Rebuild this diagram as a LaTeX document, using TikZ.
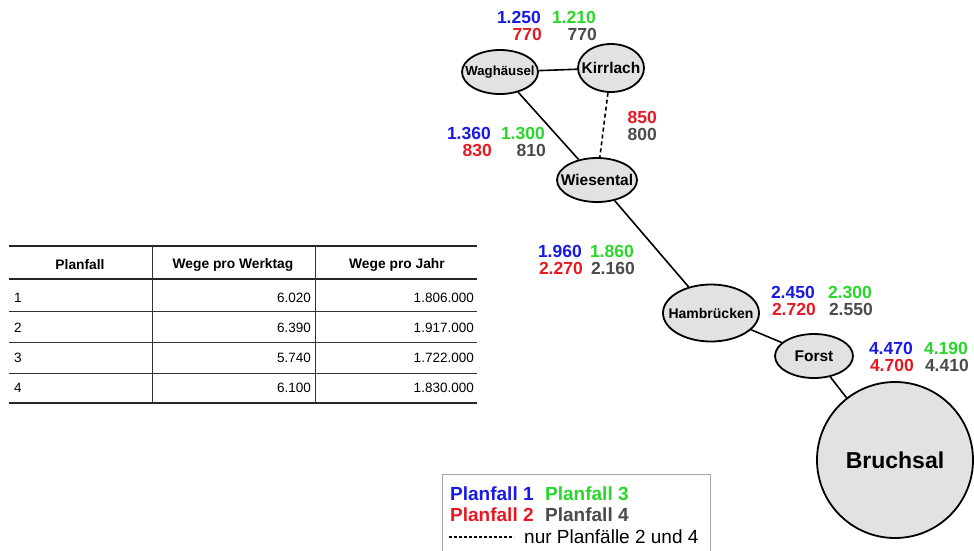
\documentclass[tikz,border=0pt]{standalone}
\usepackage{fontspec}
\setmainfont{Liberation Sans}
\usetikzlibrary{shapes.geometric}
\definecolor{pfblau}{RGB}{25,25,230}
\definecolor{pfgruen}{RGB}{40,215,40}
\definecolor{pfrot}{RGB}{230,25,35}
\definecolor{pfgrau}{RGB}{75,75,75}
\definecolor{stadtgrau}{RGB}{226,226,226}
\begin{document}
\begin{tikzpicture}[x=1pt,y=-1pt,
  stadt/.style={ellipse, draw=black, line width=1.8pt, fill=stadtgrau, inner sep=0pt},
  ort/.style={font=\bfseries\fontsize{#1}{#1}\selectfont, inner sep=0pt},
  zahl/.style={anchor=east, inner sep=0pt, font=\bfseries\fontsize{17.5}{17.5}\selectfont},
  pfa/.style={zahl, text=pfblau},
  pfb/.style={zahl, text=pfrot},
  pfc/.style={zahl, text=pfgruen},
  pfd/.style={zahl, text=pfgrau},
  strecke/.style={line width=1.6pt},
  tab/.style={inner sep=0pt, font=\fontsize{13.5}{13.5}\selectfont},
  tabkopf/.style={tab, font=\bfseries\fontsize{13.8}{13.8}\selectfont},
  legtext/.style={anchor=west, inner sep=0pt, font=\bfseries\fontsize{19}{19}\selectfont}]
  \useasboundingbox (0,0) rectangle (974,550);
  % orte
  \node[stadt, minimum width=76pt, minimum height=44pt, label={[ort=13.2]center:Waghäusel}] (wag) at (500,72) {};
  \node[stadt, minimum width=66pt, minimum height=48pt, label={[ort=15.5]center:Kirrlach}] (kir) at (611,68) {};
  \node[stadt, minimum width=80pt, minimum height=44pt, label={[ort=15.5]center:Wiesental}] (wie) at (597,180) {};
  \node[stadt, minimum width=96pt, minimum height=57pt, label={[ort=14]center:Hambrücken}] (ham) at (711,313) {};
  \node[stadt, minimum width=78pt, minimum height=44pt, label={[ort=15.5]center:Forst}] (for) at (814,356) {};
  \node[stadt, circle, minimum size=156pt, label={[ort=23]center:Bruchsal}] (bru) at (895,460) {};
  % strecken
  \draw[strecke] (wag) -- (kir);
  \draw[strecke] (wag) -- (wie);
  \draw[strecke, dash pattern=on 4pt off 3pt] (kir) -- (wie);
  \draw[strecke] (wie) -- (ham);
  \draw[strecke] (ham) -- (for);
  \draw[strecke] (for) -- (bru);
  % wege je planfall
  \foreach \n/\xa/\xc/\y/\a/\c/\b/\d in {wk/541/596/17/1.250/1.210/770/770,
      ww/491/545/133/1.360/1.300/830/810, wh/582/634/251/1.960/1.860/2.270/2.160,
      hf/815/872/292/2.450/2.300/2.720/2.550, fb/913/968/348/4.470/4.190/4.700/4.410} {
    \node[pfa] (a\n) at (\xa,\y) {\a};
    \node[pfc] (c\n) at (\xc,\y) {\c};
    \node[pfb] (b\n) at (\xa+1,\y+17) {\b};
    \node[pfd] (d\n) at (\xc+1,\y+17) {\d};
  }
  \node[pfb] (bkw) at (657,117) {850};
  \node[pfd] (dkw) at (657,134) {800};
  % tabelle
  \draw[line width=1.7pt, black!85] (9,246) -- (477,246) (9,279) -- (477,279) (9,403) -- (477,403);
  \draw[line width=1pt, black!80] (9,311) -- (477,311) (9,342) -- (477,342) (9,373) -- (477,373);
  \draw[line width=1pt, black!80] (152,246) -- (152,403) (315,246) -- (315,403);
  \node[tabkopf] (kpf) at (80,265) {Planfall};
  \node[tabkopf] (kwt) at (233,265) {Wege pro Werktag};
  \node[tabkopf] (kwj) at (397,265) {Wege pro Jahr};
  \foreach \i/\y/\w/\j in {1/298/6.020/1.806.000, 2/328/6.390/1.917.000,
      3/358/5.740/1.722.000, 4/388/6.100/1.830.000} {
    \node[tab, anchor=west] (pf\i) at (14,\y) {\i};
    \node[tab, anchor=east] (wt\i) at (311,\y) {\w};
    \node[tab, anchor=east] (wj\i) at (474,\y) {\j};
  }
  % legende
  \draw[black!35, line width=0.8pt] (442,551) -- (442,474) -- (710,474) -- (710,551);
  \node[legtext, text=pfblau] (la) at (450,494) {Planfall 1};
  \node[legtext, text=pfgruen] (lc) at (545,494) {Planfall 3};
  \node[legtext, text=pfrot] (lb) at (450,515) {Planfall 2};
  \node[legtext, text=pfgrau] (ld) at (545,515) {Planfall 4};
  \coordinate (s1) at (449,537);
  \coordinate (s2) at (514,537);
  \draw[line width=1.3pt, dash pattern=on 3pt off 2pt] (s1) -- (s2);
  \node[legtext, font=\fontsize{19}{19}\selectfont] (lnur) at (524,537) {nur Planfälle 2 und 4};
\end{tikzpicture}
\end{document}
